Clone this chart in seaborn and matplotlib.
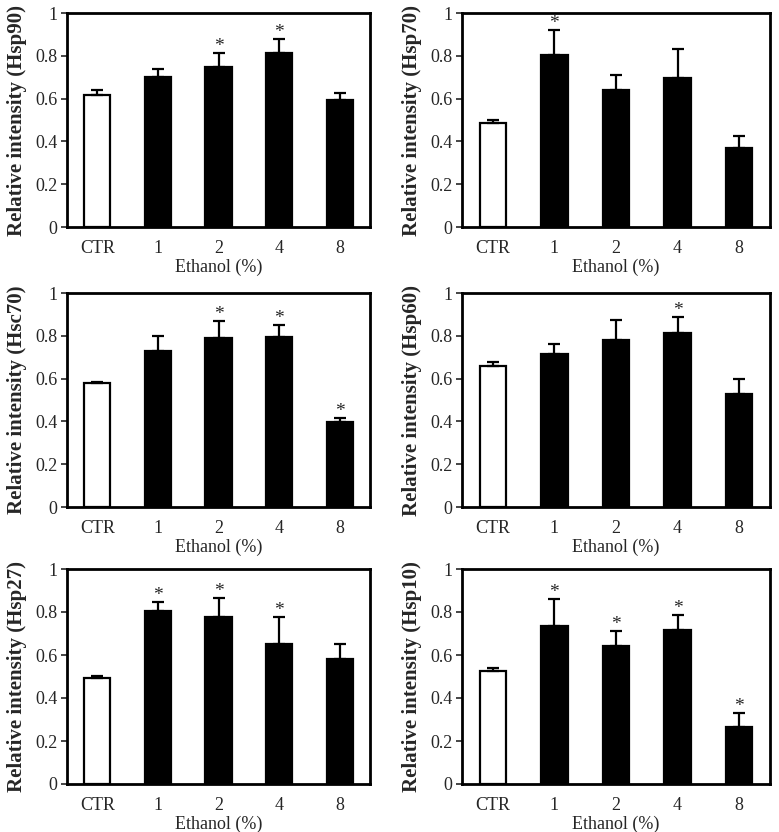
import matplotlib
matplotlib.use("Agg")
import matplotlib.pyplot as plt
import seaborn as sns
import numpy as np
import pandas as pd

sns.set_style("white")
plt.rcParams['font.family'] = ['Liberation Serif', 'DejaVu Serif']

categories = ["CTR", "1", "2", "4", "8"]

hsp90_mean = [0.615, 0.700, 0.750, 0.815, 0.595]
hsp90_err = [0.027, 0.040, 0.065, 0.065, 0.030]
hsp90_sig = [False, False, True, True, False]

hsp70_mean = [0.487, 0.805, 0.640, 0.695, 0.368]
hsp70_err = [0.012, 0.117, 0.068, 0.137, 0.056]
hsp70_sig = [False, True, False, False, False]

hsc70_mean = [0.578, 0.730, 0.790, 0.795, 0.398]
hsc70_err = [0.007, 0.070, 0.080, 0.057, 0.017]
hsc70_sig = [False, False, True, True, True]

hsp60_mean = [0.661, 0.714, 0.779, 0.815, 0.529]
hsp60_err = [0.015, 0.050, 0.093, 0.075, 0.070]
hsp60_sig = [False, False, False, True, False]

hsp27_mean = [0.495, 0.806, 0.775, 0.653, 0.583]
hsp27_err = [0.006, 0.042, 0.090, 0.122, 0.066]
hsp27_sig = [False, True, True, True, False]

hsp10_mean = [0.526, 0.737, 0.644, 0.717, 0.266]
hsp10_err = [0.015, 0.123, 0.067, 0.070, 0.065]
hsp10_sig = [False, True, True, True, True]

panels = [
    ("Hsp90", hsp90_mean, hsp90_err, hsp90_sig),
    ("Hsp70", hsp70_mean, hsp70_err, hsp70_sig),
    ("Hsc70", hsc70_mean, hsc70_err, hsc70_sig),
    ("Hsp60", hsp60_mean, hsp60_err, hsp60_sig),
    ("Hsp27", hsp27_mean, hsp27_err, hsp27_sig),
    ("Hsp10", hsp10_mean, hsp10_err, hsp10_sig),
]

W, H = 779, 832
fig = plt.figure(figsize=(W / 100, H / 100), dpi=100)

col_x = [(67, 303), (462, 308)]
row_y = [(13, 227), (293, 507), (569, 784)]

yticks = [0, 0.2, 0.4, 0.6, 0.8, 1.0]
ytick_labels = ["0", "0.2", "0.4", "0.6", "0.8", "1"]

for i, (name, mean, err, sig) in enumerate(panels):
    r, c = divmod(i, 2)
    x0, w = col_x[c]
    top, bot = row_y[r]
    ax = fig.add_axes([x0 / W, 1 - bot / H, w / W, (bot - top) / H])
    df = pd.DataFrame({"cat": categories, "val": mean})
    colors = ["white"] + ["black"] * 4
    sns.barplot(data=df, x="cat", y="val", hue="cat", palette=colors, legend=False,
                edgecolor="black", linewidth=1.6, width=0.43, ax=ax)
    xs = np.arange(len(categories))
    ax.errorbar(xs, mean, yerr=[np.zeros(len(err)), err], fmt="none",
                ecolor="black", elinewidth=1.6, capsize=4, capthick=1.6, zorder=1)
    for xi, m, e, s in zip(xs, mean, err, sig):
        if s:
            ax.text(xi, m + e + 0.03, "*", ha="center", va="center", fontsize=14)
    ax.set_xlim(-0.5, 4.5)
    ax.set_ylim(0, 1)
    ax.set_yticks(yticks)
    ax.set_yticklabels(ytick_labels)
    ax.set_xlabel("Ethanol (%)", fontsize=13, labelpad=1)
    ax.set_ylabel(f"Relative intensity ({name})", fontsize=15, fontweight="bold", labelpad=6)
    ax.tick_params(axis="y", which="both", left=True, length=4, width=1.2, labelsize=13, pad=3)
    ax.tick_params(axis="x", bottom=False, labelsize=13, pad=6)
    for sp in ax.spines.values():
        sp.set_visible(True)
        sp.set_linewidth(2)
        sp.set_color("black")

fig.savefig("out.png", dpi=100)
